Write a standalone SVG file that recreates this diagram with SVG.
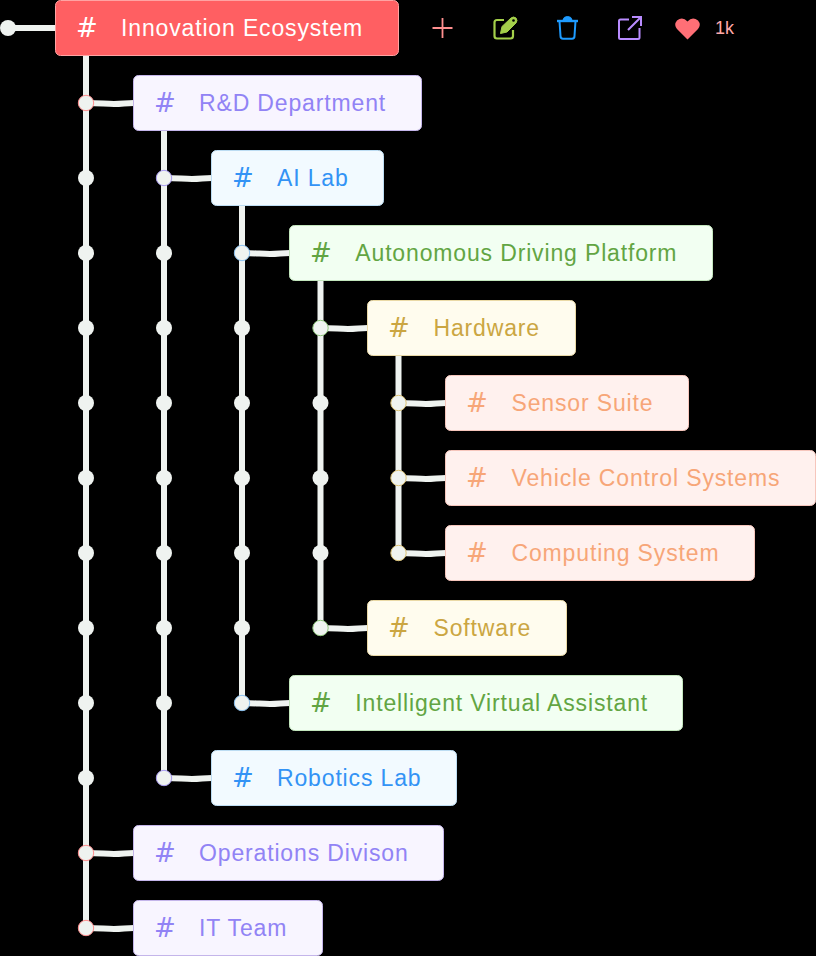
<svg xmlns="http://www.w3.org/2000/svg" width="816" height="956" viewBox="0 0 816 956">
<style>
text{font-family:"Liberation Sans",Arial,sans-serif;font-size:23px;letter-spacing:.85px}
.v,.h{fill:none;stroke:#eff3f0;stroke-width:6}
.d{fill:#eff3f0}
.r{fill:#eff3f0;stroke-width:1}
.box{stroke-width:1}
text.hash{font-family:"DejaVu Sans",sans-serif;font-size:26px;letter-spacing:0;text-anchor:middle}
.l0 rect{fill:#ff5f62;stroke:#ffa3a3}.l0 text{fill:#fff}
.l1 rect{fill:#f8f5ff;stroke:#c4b5ea}.l1 text{fill:#9183f5}
.l2 rect{fill:#f2faff;stroke:#bcdcf2}.l2 text{fill:#3393f5}
.l3 rect{fill:#f2fff2;stroke:#c3e6bd}.l3 text{fill:#62a543}
.l4 rect{fill:#fffcee;stroke:#ead9a6}.l4 text{fill:#cba642}
.l5 rect{fill:#fff1ee;stroke:#f6c6bc}.l5 text{fill:#f7a678}
</style>
<rect width="816" height="956" fill="#000"/>
<g id="connectors">
<path class="h" d="M8 28H56"/>
<path class="v" d="M86 55V928M164 130V778M242 205V703M320.500 280V628M398.500 355V553"/>
<path class="h" d="M86 103C100 103 105 104 114 104S125 103 134 103M86 853C100 853 105 854 114 854S125 853 134 853M86 928C100 928 105 929 114 929S125 928 134 928M164 178C178 178 183 179 192 179S203 178 212 178M164 778C178 778 183 779 192 779S203 778 212 778M242 253C256 253 261 254 270 254S281 253 290 253M242 703C256 703 261 704 270 704S281 703 290 703M320 328C334 328 339 329 348 329S359 328 368 328M320 628C334 628 339 629 348 629S359 628 368 628M398 403C412 403 417 404 426 404S437 403 446 403M398 478C412 478 417 479 426 479S437 478 446 478M398 553C412 553 417 554 426 554S437 553 446 553"/>
<g class="d">
<circle cx="8" cy="28" r="8"/>
<circle cx="86" cy="178" r="8"/><circle cx="86" cy="253" r="8"/><circle cx="86" cy="328" r="8"/><circle cx="86" cy="403" r="8"/><circle cx="86" cy="478" r="8"/><circle cx="86" cy="553" r="8"/><circle cx="86" cy="628" r="8"/><circle cx="86" cy="703" r="8"/><circle cx="86" cy="778" r="8"/>
<circle cx="164" cy="253" r="8"/><circle cx="164" cy="328" r="8"/><circle cx="164" cy="403" r="8"/><circle cx="164" cy="478" r="8"/><circle cx="164" cy="553" r="8"/><circle cx="164" cy="628" r="8"/><circle cx="164" cy="703" r="8"/>
<circle cx="242" cy="328" r="8"/><circle cx="242" cy="403" r="8"/><circle cx="242" cy="478" r="8"/><circle cx="242" cy="553" r="8"/><circle cx="242" cy="628" r="8"/>
<circle cx="320.500" cy="403" r="8"/><circle cx="320.500" cy="478" r="8"/><circle cx="320.500" cy="553" r="8"/>
</g>
<g class="r" stroke="#ff8f8f"><circle cx="86" cy="103" r="7.700"/><circle cx="86" cy="853" r="7.700"/><circle cx="86" cy="928" r="7.700"/></g>
<g class="r" stroke="#a99cf0"><circle cx="164" cy="178" r="7.700"/><circle cx="164" cy="778" r="7.700"/></g>
<g class="r" stroke="#8cc2f0"><circle cx="242" cy="253" r="7.700"/><circle cx="242" cy="703" r="7.700"/></g>
<g class="r" stroke="#8dc47a"><circle cx="320.500" cy="328" r="7.700"/><circle cx="320.500" cy="628" r="7.700"/></g>
<g class="r" stroke="#dcc377"><circle cx="398.500" cy="403" r="7.700"/><circle cx="398.500" cy="478" r="7.700"/><circle cx="398.500" cy="553" r="7.700"/></g>
</g>
<g id="n0" class="l0"><rect class="box" x="55.500" y="0.500" width="343" height="55" rx="5"/><text class="hash" x="87" y="37">#</text><text x="121" y="36">Innovation Ecosystem</text></g>
<g id="n1" class="l1"><rect class="box" x="133.500" y="75.500" width="288" height="55" rx="5"/><text class="hash" x="165" y="112">#</text><text x="199" y="111">R&amp;D Department</text></g>
<g id="n2" class="l2"><rect class="box" x="211.500" y="150.500" width="172" height="55" rx="5"/><text class="hash" x="243" y="187">#</text><text x="277" y="186">AI Lab</text></g>
<g id="n3" class="l3"><rect class="box" x="289.500" y="225.500" width="423" height="55" rx="5"/><text class="hash" x="321" y="262">#</text><text x="355.300" y="261">Autonomous Driving Platform</text></g>
<g id="n4" class="l4"><rect class="box" x="367.500" y="300.500" width="208" height="55" rx="5"/><text class="hash" x="399" y="337">#</text><text x="433.500" y="336">Hardware</text></g>
<g id="n5" class="l5"><rect class="box" x="445.500" y="375.500" width="243" height="55" rx="5"/><text class="hash" x="477" y="412">#</text><text x="511.500" y="411">Sensor Suite</text></g>
<g id="n6" class="l5"><rect class="box" x="445.500" y="450.500" width="370" height="55" rx="5"/><text class="hash" x="477" y="487">#</text><text x="511.500" y="486">Vehicle Control Systems</text></g>
<g id="n7" class="l5"><rect class="box" x="445.500" y="525.500" width="309" height="55" rx="5"/><text class="hash" x="477" y="562">#</text><text x="511.500" y="561">Computing System</text></g>
<g id="n8" class="l4"><rect class="box" x="367.500" y="600.500" width="199" height="55" rx="5"/><text class="hash" x="399" y="637">#</text><text x="433.500" y="636">Software</text></g>
<g id="n9" class="l3"><rect class="box" x="289.500" y="675.500" width="393" height="55" rx="5"/><text class="hash" x="321" y="712">#</text><text x="355.300" y="711">Intelligent Virtual Assistant</text></g>
<g id="n10" class="l2"><rect class="box" x="211.500" y="750.500" width="245" height="55" rx="5"/><text class="hash" x="243" y="787">#</text><text x="277" y="786">Robotics Lab</text></g>
<g id="n11" class="l1"><rect class="box" x="133.500" y="825.500" width="310" height="55" rx="5"/><text class="hash" x="165" y="862">#</text><text x="199" y="861">Operations Divison</text></g>
<g id="n12" class="l1"><rect class="box" x="133.500" y="900.500" width="189" height="55" rx="5"/><text class="hash" x="165" y="937">#</text><text x="199" y="936">IT Team</text></g>
<g id="toolbar" fill="none" stroke-width="2">
<path d="M432.500 28H452.500M442.500 18V38" stroke="#ff8f8f" stroke-width="1.800"/>
<path d="M504 20H497Q494.500 20 494.500 22.500V36Q494.500 38.500 497 38.500H510.500Q513 38.500 513 36V30" stroke="#a4d04a" stroke-width="2.200"/>
<path d="M500.500 33.500L502 26.500L511 18Q513.500 16 516 18Q518 20.500 516 23L507 32Z" fill="#a4d04a" stroke="#a4d04a" stroke-width="1"/>
<circle cx="513.500" cy="20.500" r="1.300" fill="#000"/>
<path d="M557 21H578" stroke="#1e9bff" stroke-width="2.400"/>
<path d="M563 20Q563.500 16.500 567.500 16.500Q571.500 16.500 572 20Z" fill="#1e9bff" stroke="#1e9bff" stroke-width="1"/>
<path d="M559.500 21L560.500 36Q560.500 38.800 563 38.800H572Q574.500 38.800 574.500 36L575.500 21" stroke="#1e9bff"/>
<path d="M629 19.500H620.500Q619 19.500 619 21V37.500Q619 39 620.500 39H638Q639.500 39 639.500 37.500V28M628 30L640 18M632 17H641V26" stroke="#b98cff"/>
<path d="M687.500 39.500L677 29Q673.500 24.500 677 20.500Q682.500 16 687.500 21.500Q692.500 16 698 20.500Q701.500 24.500 698 29Z" fill="#ff6f76"/>
<text x="715" y="34" style="font-size:18px;letter-spacing:0;fill:#ffa8a8;stroke:none">1k</text>
</g>
</svg>
